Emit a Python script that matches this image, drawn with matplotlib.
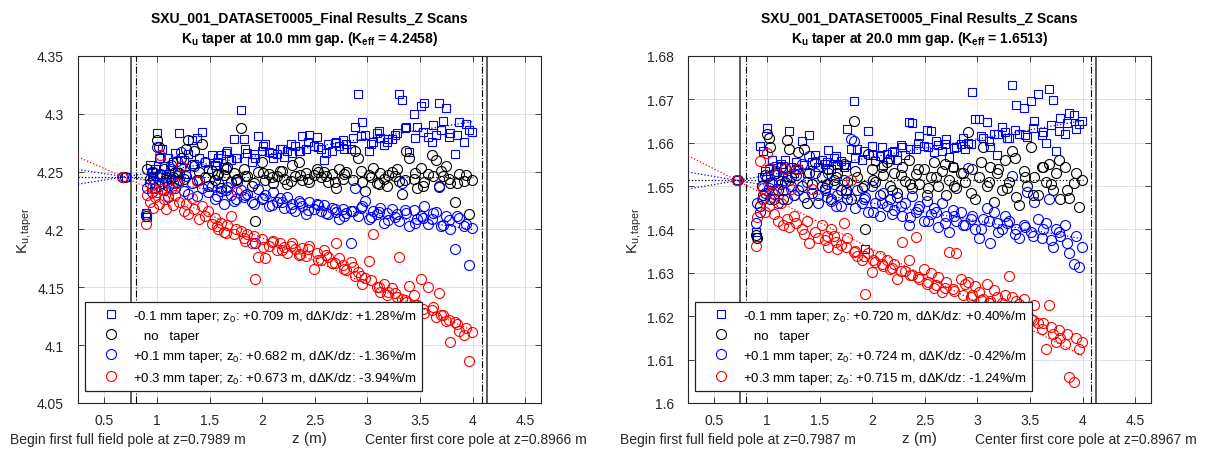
import matplotlib
matplotlib.use('Agg')
import matplotlib.pyplot as plt

plt.rcParams['font.family'] = ['Liberation Sans', 'DejaVu Sans']
plt.rcParams['mathtext.fontset'] = 'custom'
plt.rcParams['mathtext.rm'] = 'Liberation Sans'
plt.rcParams['mathtext.it'] = 'Liberation Sans:italic'
plt.rcParams['mathtext.bf'] = 'Liberation Sans:bold'
plt.rcParams['font.size'] = 10

# z positions of the scan (m), shared by both gaps
z_scan = [0.90, 0.91, 0.93, 0.95, 0.96, 0.98, 1.00, 1.02, 1.03, 1.05,
          1.07, 1.09, 1.11, 1.13, 1.15, 1.17, 1.19, 1.21, 1.23, 1.26,
          1.28, 1.30, 1.33, 1.35, 1.38, 1.40, 1.43, 1.46, 1.49, 1.52,
          1.55, 1.58, 1.61, 1.64, 1.67, 1.70, 1.73, 1.76, 1.80, 1.83,
          1.86, 1.90, 1.93, 1.96, 2.00, 2.03, 2.07, 2.10, 2.14, 2.17,
          2.21, 2.24, 2.28, 2.31, 2.35, 2.38, 2.42, 2.45, 2.49, 2.52,
          2.56, 2.59, 2.63, 2.66, 2.70, 2.73, 2.77, 2.80, 2.84, 2.88,
          2.91, 2.95, 2.98, 3.02, 3.05, 3.09, 3.12, 3.16, 3.19, 3.23,
          3.26, 3.30, 3.33, 3.37, 3.40, 3.44, 3.47, 3.51, 3.54, 3.58,
          3.61, 3.65, 3.68, 3.72, 3.75, 3.79, 3.83, 3.87, 3.92, 3.97]
# second pass of the scan (in-between positions)
z_scan_b = [1.57, 1.66, 1.75, 1.84, 1.92, 2.01, 2.09, 2.19, 2.27, 2.36,
            2.44, 2.53, 2.61, 2.69, 2.78, 2.86, 2.94, 3.03, 3.11, 3.20,
            3.28, 3.36, 3.45, 3.53, 3.62, 3.70, 3.78, 3.85, 3.94, 3.99]

# ---- 10.0 mm gap ----
k10_m01 = [4.214, 4.211, 4.256, 4.250, 4.246, 4.252, 4.283, 4.262, 4.248, 4.270,
           4.255, 4.248, 4.262, 4.244, 4.258, 4.266, 4.250, 4.283, 4.254, 4.260,
           4.248, 4.265, 4.277, 4.257, 4.279, 4.262, 4.284, 4.258, 4.252, 4.264,
           4.256, 4.262, 4.264, 4.254, 4.268, 4.260, 4.278, 4.262, 4.303, 4.278,
           4.266, 4.258, 4.262, 4.281, 4.268, 4.274, 4.267, 4.262, 4.265, 4.270,
           4.263, 4.268, 4.266, 4.272, 4.268, 4.281, 4.270, 4.282, 4.272, 4.280,
           4.270, 4.260, 4.274, 4.268, 4.276, 4.272, 4.277, 4.274, 4.270, 4.289,
           4.317, 4.293, 4.282, 4.268, 4.276, 4.283, 4.279, 4.273, 4.276, 4.278,
           4.282, 4.317, 4.312, 4.289, 4.267, 4.300, 4.289, 4.307, 4.309, 4.280,
           4.276, 4.282, 4.309, 4.294, 4.305, 4.283, 4.265, 4.293, 4.276, 4.286]
k10_m01_b = [4.258, 4.266, 4.262, 4.270, 4.265, 4.272, 4.266, 4.270, 4.274, 4.268,
             4.276, 4.271, 4.266, 4.275, 4.270, 4.279, 4.281, 4.274, 4.285, 4.278,
             4.283, 4.288, 4.279, 4.284, 4.290, 4.286, 4.280, 4.282, 4.291, 4.284]
k10_0 = [4.212, 4.252, 4.240, 4.250, 4.244, 4.236, 4.277, 4.271, 4.248, 4.240,
         4.252, 4.243, 4.238, 4.256, 4.245, 4.250, 4.241, 4.249, 4.262, 4.244,
         4.270, 4.277, 4.256, 4.268, 4.243, 4.250, 4.274, 4.245, 4.238, 4.251,
         4.243, 4.248, 4.236, 4.247, 4.254, 4.241, 4.249, 4.244, 4.288, 4.252,
         4.246, 4.238, 4.207, 4.250, 4.258, 4.243, 4.248, 4.240, 4.246, 4.251,
         4.244, 4.239, 4.256, 4.246, 4.258, 4.243, 4.249, 4.241, 4.247, 4.252,
         4.245, 4.250, 4.241, 4.248, 4.236, 4.252, 4.244, 4.250, 4.216, 4.268,
         4.262, 4.241, 4.233, 4.247, 4.253, 4.240, 4.249, 4.244, 4.238, 4.250,
         4.246, 4.242, 4.231, 4.268, 4.262, 4.244, 4.236, 4.253, 4.241, 4.248,
         4.264, 4.260, 4.238, 4.246, 4.255, 4.240, 4.224, 4.248, 4.242, 4.213]
k10_0_b = [4.247, 4.252, 4.243, 4.246, 4.240, 4.249, 4.245, 4.251, 4.242, 4.247,
           4.244, 4.250, 4.246, 4.241, 4.248, 4.243, 4.251, 4.245, 4.239, 4.247,
           4.252, 4.243, 4.249, 4.238, 4.246, 4.251, 4.244, 4.240, 4.247, 4.243]
k10_p01 = [4.213, 4.236, 4.244, 4.232, 4.250, 4.240, 4.271, 4.238, 4.262, 4.247,
           4.234, 4.245, 4.228, 4.252, 4.240, 4.236, 4.259, 4.243, 4.267, 4.233,
           4.246, 4.231, 4.240, 4.255, 4.229, 4.243, 4.236, 4.258, 4.232, 4.238,
           4.226, 4.240, 4.233, 4.222, 4.237, 4.230, 4.225, 4.241, 4.234, 4.228,
           4.231, 4.224, 4.188, 4.235, 4.226, 4.230, 4.220, 4.232, 4.224, 4.227,
           4.219, 4.228, 4.222, 4.216, 4.225, 4.220, 4.213, 4.224, 4.218, 4.222,
           4.216, 4.221, 4.213, 4.219, 4.215, 4.209, 4.218, 4.214, 4.188, 4.236,
           4.212, 4.220, 4.225, 4.209, 4.216, 4.213, 4.219, 4.206, 4.214, 4.218,
           4.211, 4.207, 4.240, 4.214, 4.203, 4.217, 4.209, 4.212, 4.220, 4.205,
           4.209, 4.215, 4.237, 4.204, 4.212, 4.200, 4.183, 4.210, 4.203, 4.169]
k10_p01_b = [4.229, 4.234, 4.226, 4.230, 4.222, 4.227, 4.221, 4.224, 4.219, 4.223,
             4.217, 4.221, 4.214, 4.218, 4.212, 4.216, 4.219, 4.211, 4.215, 4.208,
             4.213, 4.217, 4.206, 4.210, 4.214, 4.203, 4.208, 4.212, 4.205, 4.201]
k10_p03 = [4.205, 4.230, 4.224, 4.236, 4.219, 4.228, 4.232, 4.222, 4.264, 4.235,
           4.226, 4.218, 4.229, 4.235, 4.221, 4.230, 4.240, 4.224, 4.255, 4.216,
           4.222, 4.213, 4.227, 4.218, 4.242, 4.209, 4.220, 4.212, 4.216, 4.205,
           4.210, 4.200, 4.206, 4.198, 4.204, 4.212, 4.196, 4.232, 4.199, 4.193,
           4.196, 4.188, 4.157, 4.176, 4.192, 4.175, 4.186, 4.190, 4.182, 4.188,
           4.185, 4.180, 4.188, 4.183, 4.178, 4.184, 4.177, 4.186, 4.166, 4.180,
           4.174, 4.182, 4.176, 4.171, 4.188, 4.175, 4.169, 4.165, 4.172, 4.160,
           4.163, 4.153, 4.158, 4.173, 4.196, 4.150, 4.146, 4.153, 4.143, 4.149,
           4.145, 4.176, 4.140, 4.137, 4.151, 4.143, 4.135, 4.157, 4.128, 4.150,
           4.130, 4.124, 4.145, 4.126, 4.121, 4.103, 4.120, 4.112, 4.109, 4.086]
k10_p03_b = [4.203, 4.197, 4.200, 4.190, 4.194, 4.185, 4.189, 4.182, 4.186, 4.179,
             4.183, 4.174, 4.178, 4.171, 4.166, 4.168, 4.160, 4.156, 4.150, 4.146,
             4.142, 4.139, 4.135, 4.131, 4.133, 4.126, 4.122, 4.118, 4.115, 4.111]

# ---- 20.0 mm gap ----
k20_m01 = [1.6394, 1.6383, 1.6593, 1.6520, 1.6582, 1.6535, 1.6634, 1.6540, 1.6510, 1.6560,
           1.6528, 1.6547, 1.6515, 1.6550, 1.6532, 1.6560, 1.6522, 1.6628, 1.6545, 1.6530,
           1.6555, 1.6540, 1.6603, 1.6548, 1.6530, 1.6618, 1.6556, 1.6572, 1.6545, 1.6560,
           1.6550, 1.6584, 1.6540, 1.6565, 1.6548, 1.6558, 1.6545, 1.6632, 1.6586, 1.6697,
           1.6586, 1.6560, 1.6355, 1.6627, 1.6593, 1.6558, 1.6570, 1.6548, 1.6575, 1.6562,
           1.6580, 1.6560, 1.6590, 1.6572, 1.6648, 1.6645, 1.6585, 1.6616, 1.6592, 1.6630,
           1.6626, 1.6578, 1.6595, 1.6582, 1.6609, 1.6567, 1.6545, 1.6590, 1.6598, 1.6585,
           1.6600, 1.6718, 1.6655, 1.6654, 1.6612, 1.6648, 1.6590, 1.6620, 1.6572, 1.6636,
           1.6625, 1.6610, 1.6732, 1.6687, 1.6620, 1.6680, 1.6614, 1.6697, 1.6650, 1.6712,
           1.6618, 1.6600, 1.6723, 1.6698, 1.6582, 1.6657, 1.6620, 1.6669, 1.6665, 1.6643]
k20_m01_b = [1.6555, 1.6570, 1.6548, 1.6565, 1.6580, 1.6572, 1.6590, 1.6578, 1.6595, 1.6586,
             1.6600, 1.6590, 1.6605, 1.6596, 1.6588, 1.6610, 1.6598, 1.6615, 1.6605, 1.6620,
             1.6612, 1.6630, 1.6618, 1.6635, 1.6625, 1.6640, 1.6628, 1.6645, 1.6632, 1.6650]
k20_0 = [1.6388, 1.6380, 1.6455, 1.6500, 1.6480, 1.6525, 1.6620, 1.6610, 1.6590, 1.6505,
         1.6470, 1.6530, 1.6490, 1.6545, 1.6470, 1.6510, 1.6607, 1.6585, 1.6520, 1.6480,
         1.6540, 1.6578, 1.6500, 1.6585, 1.6460, 1.6530, 1.6505, 1.6555, 1.6480, 1.6520,
         1.6495, 1.6540, 1.6470, 1.6515, 1.6530, 1.6490, 1.6550, 1.6510, 1.6470, 1.6651,
         1.6520, 1.6495, 1.6401, 1.6574, 1.6540, 1.6510, 1.6480, 1.6525, 1.6556, 1.6500,
         1.6530, 1.6485, 1.6545, 1.6512, 1.6560, 1.6495, 1.6528, 1.6505, 1.6540, 1.6480,
         1.6520, 1.6556, 1.6500, 1.6535, 1.6480, 1.6515, 1.6545, 1.6495, 1.6530, 1.6510,
         1.6625, 1.6540, 1.6470, 1.6520, 1.6590, 1.6500, 1.6545, 1.6463, 1.6530, 1.6490,
         1.6560, 1.6510, 1.6580, 1.6475, 1.6457, 1.6535, 1.6500, 1.6590, 1.6520, 1.6480,
         1.6545, 1.6510, 1.6552, 1.6490, 1.6530, 1.6470, 1.6545, 1.6473, 1.6507, 1.6451]
k20_0_b = [1.6505, 1.6520, 1.6490, 1.6535, 1.6500, 1.6515, 1.6545, 1.6490, 1.6525, 1.6505,
           1.6540, 1.6495, 1.6520, 1.6550, 1.6500, 1.6530, 1.6485, 1.6555, 1.6510, 1.6540,
           1.6495, 1.6565, 1.6520, 1.6480, 1.6545, 1.6505, 1.6560, 1.6490, 1.6530, 1.6515]
k20_p01 = [1.6416, 1.6462, 1.6440, 1.6500, 1.6470, 1.6485, 1.6520, 1.6495, 1.6470, 1.6510,
           1.6482, 1.6535, 1.6460, 1.6505, 1.6490, 1.6545, 1.6470, 1.6515, 1.6500, 1.6480,
           1.6525, 1.6490, 1.6550, 1.6475, 1.6510, 1.6570, 1.6485, 1.6530, 1.6460, 1.6500,
           1.6490, 1.6530, 1.6465, 1.6505, 1.6480, 1.6455, 1.6515, 1.6470, 1.6609, 1.6604,
           1.6490, 1.6460, 1.6475, 1.6440, 1.6500, 1.6462, 1.6430, 1.6485, 1.6455, 1.6470,
           1.6445, 1.6475, 1.6430, 1.6460, 1.6410, 1.6477, 1.6440, 1.6455, 1.6420, 1.6465,
           1.6435, 1.6450, 1.6405, 1.6460, 1.6430, 1.6394, 1.6445, 1.6420, 1.6440, 1.6410,
           1.6542, 1.6430, 1.6400, 1.6380, 1.6425, 1.6450, 1.6370, 1.6440, 1.6415, 1.6402,
           1.6431, 1.6420, 1.6524, 1.6400, 1.6380, 1.6410, 1.6486, 1.6395, 1.6463, 1.6425,
           1.6380, 1.6415, 1.6470, 1.6360, 1.6400, 1.6385, 1.6410, 1.6345, 1.6320, 1.6313]
k20_p01_b = [1.6475, 1.6455, 1.6485, 1.6450, 1.6470, 1.6440, 1.6462, 1.6435, 1.6455, 1.6428,
             1.6448, 1.6420, 1.6440, 1.6415, 1.6432, 1.6410, 1.6425, 1.6400, 1.6420, 1.6395,
             1.6415, 1.6390, 1.6405, 1.6385, 1.6400, 1.6375, 1.6395, 1.6370, 1.6385, 1.6360]
k20_p03 = [1.6363, 1.6429, 1.6558, 1.6470, 1.6495, 1.6440, 1.6576, 1.6455, 1.6542, 1.6485,
           1.6436, 1.6490, 1.6420, 1.6460, 1.6410, 1.6540, 1.6425, 1.6406, 1.6493, 1.6430,
           1.6415, 1.6540, 1.6400, 1.6390, 1.6420, 1.6370, 1.6493, 1.6395, 1.6380, 1.6410,
           1.6375, 1.6360, 1.6400, 1.6385, 1.6355, 1.6365, 1.6415, 1.6380, 1.6513, 1.6348,
           1.6340, 1.6330, 1.6251, 1.6345, 1.6302, 1.6325, 1.6338, 1.6315, 1.6330, 1.6310,
           1.6320, 1.6285, 1.6371, 1.6305, 1.6330, 1.6295, 1.6383, 1.6285, 1.6310, 1.6275,
           1.6300, 1.6265, 1.6290, 1.6256, 1.6280, 1.6348, 1.6262, 1.6346, 1.6287, 1.6275,
           1.6280, 1.6250, 1.6270, 1.6256, 1.6240, 1.6275, 1.6235, 1.6260, 1.6245, 1.6230,
           1.6250, 1.6293, 1.6245, 1.6235, 1.6228, 1.6240, 1.6215, 1.6194, 1.6226, 1.6185,
           1.6170, 1.6124, 1.6227, 1.6160, 1.6141, 1.6151, 1.6135, 1.6060, 1.6048, 1.6124]
k20_p03_b = [1.6385, 1.6372, 1.6360, 1.6350, 1.6338, 1.6330, 1.6320, 1.6312, 1.6305, 1.6296,
             1.6290, 1.6280, 1.6272, 1.6265, 1.6258, 1.6250, 1.6245, 1.6238, 1.6230, 1.6222,
             1.6215, 1.6208, 1.6200, 1.6192, 1.6185, 1.6175, 1.6168, 1.6158, 1.6150, 1.6140]

gaps = ['10.0', '20.0']
k_eff = [4.2458, 1.6513]
z0 = [[0.709, 0.70, 0.682, 0.673], [0.720, 0.72, 0.724, 0.715]]
fit_slope = [[0.0144, 0.0, -0.0138, -0.040], [0.0042, 0.0, -0.0041, -0.0123]]  # K per m
pct_label = [['+1.28', None, '-1.36', '-3.94'], ['+0.40', None, '-0.42', '-1.24']]
taper_label = ['-0.1 mm taper', 'no   taper', '+0.1 mm taper', '+0.3 mm taper']
k_data = [[k10_m01, k10_0, k10_p01, k10_p03], [k20_m01, k20_0, k20_p01, k20_p03]]
k_data_b = [[k10_m01_b, k10_0_b, k10_p01_b, k10_p03_b], [k20_m01_b, k20_0_b, k20_p01_b, k20_p03_b]]
first_pole = ['0.7989', '0.7987']
core_pole = ['0.8966', '0.8967']
vlines_solid = [[0.752, 4.14], [0.745, 4.13]]
vlines_dashdot = [[0.7989, 4.085], [0.7987, 4.08]]
ylims = [(4.05, 4.35), (1.60, 1.68)]
yticks = [[4.05, 4.1, 4.15, 4.2, 4.25, 4.3, 4.35], [1.60, 1.61, 1.62, 1.63, 1.64, 1.65, 1.66, 1.67, 1.68]]

colors = ['blue', 'black', 'blue', 'red']
markers = ['s', 'o', 'o', 'o']
msizes = [5.8, 7.2, 7.2, 7.2]

fig = plt.figure(figsize=(12.07, 4.52), dpi=100)
ax_pos = [[0.0646, 0.1062, 0.3836, 0.7677], [0.5700, 0.1062, 0.3836, 0.7677]]
xlim = (0.25, 4.65)
gray = '#262626'

for p in range(2):
    ax = fig.add_axes(ax_pos[p])
    for s in range(4):
        c = colors[s]
        for zz, kk in [(z_scan, k_data[p][s]), (z_scan_b, k_data_b[p][s])]:
            ax.plot(zz, kk, linestyle='none', marker=markers[s], ms=msizes[s],
                    mfc='none', mec=c, mew=0.8, zorder=3)
    # linear fits through z0
    for s in range(4):
        c = colors[s]
        zz = [xlim[0], 4.0]
        kk = [k_eff[p] + fit_slope[p][s] * (z - z0[p][s]) for z in zz]
        ax.plot(zz, kk, ':', color=c, lw=0.9, zorder=4)
    for s in [1, 2, 0, 3]:
        ax.plot(z0[p][s], k_eff[p], linestyle='none', marker=markers[s], ms=msizes[s],
                mfc='none', mec=colors[s], mew=0.8, zorder=5)
    for x in vlines_solid[p]:
        ax.axvline(x, color='#333333', lw=1.1, zorder=2)
    for x in vlines_dashdot[p]:
        ax.axvline(x, color='black', lw=0.8, ls='-.', zorder=2)

    ax.set_xlim(xlim)
    ax.set_ylim(ylims[p])
    ax.set_xticks([0.5, 1, 1.5, 2, 2.5, 3, 3.5, 4, 4.5])
    ax.set_xticklabels(['0.5', '1', '1.5', '2', '2.5', '3', '3.5', '4', '4.5'])
    ax.set_yticks(yticks[p])
    ax.set_yticklabels(['%g' % v for v in yticks[p]])
    ax.grid(True, color='#dcdcdc', lw=0.6)
    ax.set_axisbelow(True)
    ax.tick_params(direction='in', top=True, right=True, length=4, width=0.6,
                   colors=gray, labelsize=10)
    ax.tick_params(axis='y', pad=10)
    ax.tick_params(axis='x', pad=7)
    for sp in ax.spines.values():
        sp.set_color(gray)
        sp.set_linewidth(0.8)

    ax.set_title('SXU_001_DATASET0005_Final Results_Z Scans\n'
                 r'K$_\mathbf{u}$ taper at ' + gaps[p] + r' mm gap. (K$_\mathbf{eff}$ = %.4f)' % k_eff[p],
                 fontsize=10, fontweight='bold', linespacing=1.3, pad=10)
    ax.set_ylabel(r'K$_\mathrm{u,taper}$', fontsize=11, color=gray, labelpad=2)
    ax.set_xlabel('z (m)', fontsize=11, color=gray, labelpad=3)

    tr = ax.transAxes
    ax.text(-0.147, -0.104, 'Begin first full field pole at z=' + first_pole[p] + ' m',
            transform=tr, ha='left', va='center', fontsize=10, color=gray)
    ax.text(1.099, -0.104, 'Center first core pole at z=' + core_pole[p] + ' m',
            transform=tr, ha='right', va='center', fontsize=10, color=gray)

    # legend
    handles, labels = [], []
    for s in range(4):
        h, = ax.plot([], [], linestyle='none', marker=markers[s], ms=msizes[s],
                     mfc='none', mec=colors[s], mew=0.8)
        handles.append(h)
        if pct_label[p][s] is None:
            labels.append('   ' + taper_label[s])
        else:
            labels.append(taper_label[s] + '; z$_0$: +%.3f m, d\u0394K/dz: %s%%/m'
                          % (z0[p][s], pct_label[p][s]))
    leg = ax.legend(handles, labels, loc='lower left', bbox_to_anchor=(0.015, 0.035),
                    borderaxespad=0, fancybox=False, framealpha=1, edgecolor='#222222',
                    fontsize=9.5, handletextpad=0.15, labelspacing=0.45, borderpad=0.4,
                    handlelength=3.1)
    leg.get_frame().set_linewidth(0.9)
    leg.set_zorder(10)

fig.savefig('out.png', dpi=100)
